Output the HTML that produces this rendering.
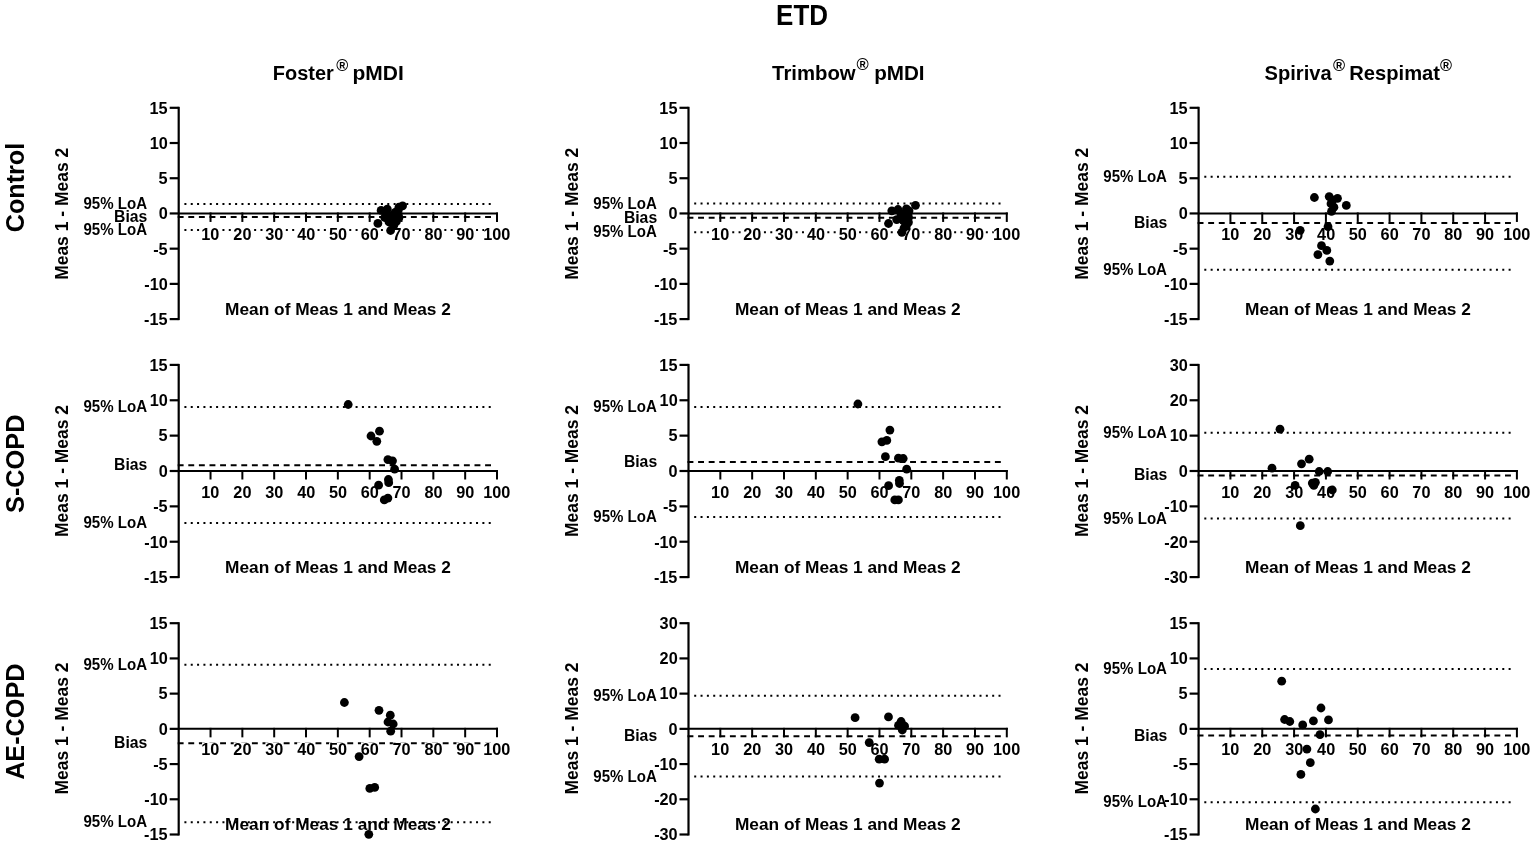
<!DOCTYPE html>
<html><head><meta charset="utf-8"><title>ETD</title>
<style>html,body{margin:0;padding:0;background:#fff;}svg{display:block;filter:blur(0.35px);}
text{font-family:"Liberation Sans", Arial, Helvetica, sans-serif;fill:#000;}
line{stroke:#000;}
</style></head><body>
<svg width="1535" height="845" viewBox="0 0 1535 845">
<rect width="1535" height="845" fill="#fff"/>
<text transform="translate(776.11,25.40) scale(0.8869,1)" font-size="29.28" font-weight="bold">ETD</text>
<text transform="translate(272.80,79.50) scale(0.9567,1)" font-size="20.87" font-weight="bold">Foster</text>
<text transform="translate(336.16,70.80) scale(1.0105,1)" font-size="16.14" font-weight="bold">®</text>
<text transform="translate(352.44,79.50) scale(1.0060,1)" font-size="20.87" font-weight="bold">pMDI</text>
<text transform="translate(772.10,79.50) scale(1.0241,1)" font-size="19.86" font-weight="bold">Trimbow</text>
<text transform="translate(856.45,70.40) scale(1.0561,1)" font-size="15.71" font-weight="bold">®</text>
<text transform="translate(874.16,79.50) scale(0.9894,1)" font-size="20.87" font-weight="bold">pMDI</text>
<text transform="translate(1264.60,79.50) scale(1.0130,1)" font-size="19.86" font-weight="bold">Spiriva</text>
<text transform="translate(1332.95,71.00) scale(1.0376,1)" font-size="15.86" font-weight="bold">®</text>
<text transform="translate(1349.29,79.50) scale(1.0160,1)" font-size="19.86" font-weight="bold">Respimat</text>
<text transform="translate(1440.06,71.00) scale(1.0287,1)" font-size="15.86" font-weight="bold">®</text>
<text transform="translate(23.90,232.21) rotate(-90) scale(0.9973,1)" font-size="25.24" font-weight="bold">Control</text>
<text transform="translate(23.90,512.96) rotate(-90) scale(0.9686,1)" font-size="26.14" font-weight="bold">S-COPD</text>
<text transform="translate(23.90,779.83) rotate(-90) scale(0.9645,1)" font-size="26.14" font-weight="bold">AE-COPD</text>
<text transform="translate(68.20,279.84) rotate(-90) scale(0.9551,1)" font-size="18.29" font-weight="bold">Meas 1 - Meas 2</text>
<line x1="184.40" y1="204.10" x2="492.10" y2="204.10" stroke-width="2" stroke-dasharray="2 4.34" stroke-dashoffset="0"/>
<line x1="184.40" y1="230.00" x2="492.10" y2="230.00" stroke-width="2" stroke-dasharray="2 4.34" stroke-dashoffset="0"/>
<line x1="177.70" y1="217.00" x2="492.10" y2="217.00" stroke-width="2" stroke-dasharray="5.9 4.7" stroke-dashoffset="0"/>
<line x1="178.70" y1="213.45" x2="498.00" y2="213.45" stroke-width="2"/>
<line x1="210.53" y1="212.45" x2="210.53" y2="221.95" stroke-width="2"/>
<rect x="202.06" y="227.03" width="16.95" height="13.82" fill="#fff"/>
<text transform="translate(201.30,239.85) scale(0.9800,1)" font-size="16.60" font-weight="bold">10</text>
<line x1="242.36" y1="212.45" x2="242.36" y2="221.95" stroke-width="2"/>
<rect x="233.64" y="227.03" width="17.44" height="13.82" fill="#fff"/>
<text transform="translate(233.37,239.85) scale(0.9800,1)" font-size="16.60" font-weight="bold">20</text>
<line x1="274.19" y1="212.45" x2="274.19" y2="221.95" stroke-width="2"/>
<rect x="265.39" y="227.03" width="17.60" height="13.82" fill="#fff"/>
<text transform="translate(265.28,239.85) scale(0.9800,1)" font-size="16.60" font-weight="bold">30</text>
<line x1="306.02" y1="212.45" x2="306.02" y2="221.95" stroke-width="2"/>
<rect x="297.14" y="227.03" width="17.76" height="13.82" fill="#fff"/>
<text transform="translate(297.19,239.85) scale(0.9800,1)" font-size="16.60" font-weight="bold">40</text>
<line x1="337.85" y1="212.45" x2="337.85" y2="221.95" stroke-width="2"/>
<rect x="329.09" y="227.03" width="17.52" height="13.82" fill="#fff"/>
<text transform="translate(328.90,239.85) scale(0.9800,1)" font-size="16.60" font-weight="bold">50</text>
<line x1="369.68" y1="212.45" x2="369.68" y2="221.95" stroke-width="2"/>
<rect x="360.96" y="227.03" width="17.44" height="13.82" fill="#fff"/>
<text transform="translate(360.69,239.85) scale(0.9800,1)" font-size="16.60" font-weight="bold">60</text>
<line x1="401.51" y1="212.45" x2="401.51" y2="221.95" stroke-width="2"/>
<rect x="392.87" y="227.03" width="17.27" height="13.82" fill="#fff"/>
<text transform="translate(392.44,239.85) scale(0.9800,1)" font-size="16.60" font-weight="bold">70</text>
<line x1="433.34" y1="212.45" x2="433.34" y2="221.95" stroke-width="2"/>
<rect x="424.58" y="227.03" width="17.52" height="13.82" fill="#fff"/>
<text transform="translate(424.39,239.85) scale(0.9800,1)" font-size="16.60" font-weight="bold">80</text>
<line x1="465.17" y1="212.45" x2="465.17" y2="221.95" stroke-width="2"/>
<rect x="456.45" y="227.03" width="17.44" height="13.82" fill="#fff"/>
<text transform="translate(456.18,239.85) scale(0.9800,1)" font-size="16.60" font-weight="bold">90</text>
<line x1="497.00" y1="212.45" x2="497.00" y2="221.95" stroke-width="2"/>
<rect x="484.01" y="227.03" width="25.98" height="13.82" fill="#fff"/>
<text transform="translate(483.25,239.85) scale(0.9800,1)" font-size="16.60" font-weight="bold">100</text>
<line x1="178.70" y1="106.80" x2="178.70" y2="320.10" stroke-width="2.2"/>
<line x1="169.70" y1="107.80" x2="178.70" y2="107.80" stroke-width="2.2"/>
<text transform="translate(149.55,113.65) scale(0.9800,1)" font-size="16.60" font-weight="bold">15</text>
<line x1="169.70" y1="143.02" x2="178.70" y2="143.02" stroke-width="2.2"/>
<text transform="translate(149.79,148.87) scale(0.9800,1)" font-size="16.60" font-weight="bold">10</text>
<line x1="169.70" y1="178.23" x2="178.70" y2="178.23" stroke-width="2.2"/>
<text transform="translate(158.58,184.08) scale(0.9800,1)" font-size="16.60" font-weight="bold">5</text>
<line x1="169.70" y1="213.45" x2="178.70" y2="213.45" stroke-width="2.2"/>
<text transform="translate(158.82,219.30) scale(0.9800,1)" font-size="16.60" font-weight="bold">0</text>
<line x1="169.70" y1="248.67" x2="178.70" y2="248.67" stroke-width="2.2"/>
<text transform="translate(153.13,254.52) scale(0.9800,1)" font-size="16.60" font-weight="bold">-5</text>
<line x1="169.70" y1="283.88" x2="178.70" y2="283.88" stroke-width="2.2"/>
<text transform="translate(144.34,289.73) scale(0.9800,1)" font-size="16.60" font-weight="bold">-10</text>
<line x1="169.70" y1="319.10" x2="178.70" y2="319.10" stroke-width="2.2"/>
<text transform="translate(144.10,324.95) scale(0.9800,1)" font-size="16.60" font-weight="bold">-15</text>
<text transform="translate(83.47,209.15) scale(0.9247,1)" font-size="16.30" font-weight="bold">95% LoA</text>
<text transform="translate(114.08,222.05) scale(0.9669,1)" font-size="16.30" font-weight="bold">Bias</text>
<text transform="translate(83.47,235.05) scale(0.9247,1)" font-size="16.30" font-weight="bold">95% LoA</text>
<circle cx="377.9" cy="223.4" r="4.4"/>
<circle cx="390.6" cy="230.5" r="4.4"/>
<circle cx="402.6" cy="205.8" r="4.4"/>
<circle cx="381.1" cy="210.4" r="4.4"/>
<circle cx="387.3" cy="209.1" r="4.4"/>
<circle cx="384.7" cy="217.5" r="4.4"/>
<circle cx="390.6" cy="215.6" r="4.4"/>
<circle cx="395.1" cy="212.3" r="4.4"/>
<circle cx="398.4" cy="209.7" r="4.4"/>
<circle cx="399.0" cy="217.5" r="4.4"/>
<circle cx="396.4" cy="221.4" r="4.4"/>
<circle cx="393.8" cy="225.3" r="4.4"/>
<circle cx="399.0" cy="207.1" r="4.4"/>
<circle cx="392.0" cy="219.0" r="4.4"/>
<circle cx="389.0" cy="222.0" r="4.4"/>
<circle cx="386.0" cy="213.0" r="4.4"/>
<text transform="translate(225.08,314.80) scale(0.9958,1)" font-size="17.38" font-weight="bold">Mean of Meas 1 and Meas 2</text>
<text transform="translate(578.20,279.84) rotate(-90) scale(0.9551,1)" font-size="18.29" font-weight="bold">Meas 1 - Meas 2</text>
<line x1="694.20" y1="203.50" x2="1001.90" y2="203.50" stroke-width="2" stroke-dasharray="2 4.34" stroke-dashoffset="0"/>
<line x1="694.20" y1="232.20" x2="1001.90" y2="232.20" stroke-width="2" stroke-dasharray="2 4.34" stroke-dashoffset="0"/>
<line x1="687.50" y1="217.70" x2="1001.90" y2="217.70" stroke-width="2" stroke-dasharray="5.9 4.7" stroke-dashoffset="0"/>
<line x1="688.50" y1="213.45" x2="1007.80" y2="213.45" stroke-width="2"/>
<line x1="720.33" y1="212.45" x2="720.33" y2="221.95" stroke-width="2"/>
<rect x="711.86" y="227.03" width="16.95" height="13.82" fill="#fff"/>
<text transform="translate(711.10,239.85) scale(0.9800,1)" font-size="16.60" font-weight="bold">10</text>
<line x1="752.16" y1="212.45" x2="752.16" y2="221.95" stroke-width="2"/>
<rect x="743.44" y="227.03" width="17.44" height="13.82" fill="#fff"/>
<text transform="translate(743.17,239.85) scale(0.9800,1)" font-size="16.60" font-weight="bold">20</text>
<line x1="783.99" y1="212.45" x2="783.99" y2="221.95" stroke-width="2"/>
<rect x="775.19" y="227.03" width="17.60" height="13.82" fill="#fff"/>
<text transform="translate(775.08,239.85) scale(0.9800,1)" font-size="16.60" font-weight="bold">30</text>
<line x1="815.82" y1="212.45" x2="815.82" y2="221.95" stroke-width="2"/>
<rect x="806.94" y="227.03" width="17.76" height="13.82" fill="#fff"/>
<text transform="translate(806.99,239.85) scale(0.9800,1)" font-size="16.60" font-weight="bold">40</text>
<line x1="847.65" y1="212.45" x2="847.65" y2="221.95" stroke-width="2"/>
<rect x="838.89" y="227.03" width="17.52" height="13.82" fill="#fff"/>
<text transform="translate(838.70,239.85) scale(0.9800,1)" font-size="16.60" font-weight="bold">50</text>
<line x1="879.48" y1="212.45" x2="879.48" y2="221.95" stroke-width="2"/>
<rect x="870.76" y="227.03" width="17.44" height="13.82" fill="#fff"/>
<text transform="translate(870.49,239.85) scale(0.9800,1)" font-size="16.60" font-weight="bold">60</text>
<line x1="911.31" y1="212.45" x2="911.31" y2="221.95" stroke-width="2"/>
<rect x="902.67" y="227.03" width="17.27" height="13.82" fill="#fff"/>
<text transform="translate(902.24,239.85) scale(0.9800,1)" font-size="16.60" font-weight="bold">70</text>
<line x1="943.14" y1="212.45" x2="943.14" y2="221.95" stroke-width="2"/>
<rect x="934.38" y="227.03" width="17.52" height="13.82" fill="#fff"/>
<text transform="translate(934.19,239.85) scale(0.9800,1)" font-size="16.60" font-weight="bold">80</text>
<line x1="974.97" y1="212.45" x2="974.97" y2="221.95" stroke-width="2"/>
<rect x="966.25" y="227.03" width="17.44" height="13.82" fill="#fff"/>
<text transform="translate(965.98,239.85) scale(0.9800,1)" font-size="16.60" font-weight="bold">90</text>
<line x1="1006.80" y1="212.45" x2="1006.80" y2="221.95" stroke-width="2"/>
<rect x="993.81" y="227.03" width="25.98" height="13.82" fill="#fff"/>
<text transform="translate(993.05,239.85) scale(0.9800,1)" font-size="16.60" font-weight="bold">100</text>
<line x1="688.50" y1="106.80" x2="688.50" y2="320.10" stroke-width="2.2"/>
<line x1="679.50" y1="107.80" x2="688.50" y2="107.80" stroke-width="2.2"/>
<text transform="translate(659.35,113.65) scale(0.9800,1)" font-size="16.60" font-weight="bold">15</text>
<line x1="679.50" y1="143.02" x2="688.50" y2="143.02" stroke-width="2.2"/>
<text transform="translate(659.59,148.87) scale(0.9800,1)" font-size="16.60" font-weight="bold">10</text>
<line x1="679.50" y1="178.23" x2="688.50" y2="178.23" stroke-width="2.2"/>
<text transform="translate(668.38,184.08) scale(0.9800,1)" font-size="16.60" font-weight="bold">5</text>
<line x1="679.50" y1="213.45" x2="688.50" y2="213.45" stroke-width="2.2"/>
<text transform="translate(668.62,219.30) scale(0.9800,1)" font-size="16.60" font-weight="bold">0</text>
<line x1="679.50" y1="248.67" x2="688.50" y2="248.67" stroke-width="2.2"/>
<text transform="translate(662.93,254.52) scale(0.9800,1)" font-size="16.60" font-weight="bold">-5</text>
<line x1="679.50" y1="283.88" x2="688.50" y2="283.88" stroke-width="2.2"/>
<text transform="translate(654.14,289.73) scale(0.9800,1)" font-size="16.60" font-weight="bold">-10</text>
<line x1="679.50" y1="319.10" x2="688.50" y2="319.10" stroke-width="2.2"/>
<text transform="translate(653.90,324.95) scale(0.9800,1)" font-size="16.60" font-weight="bold">-15</text>
<text transform="translate(593.27,208.55) scale(0.9247,1)" font-size="16.30" font-weight="bold">95% LoA</text>
<text transform="translate(623.88,222.75) scale(0.9669,1)" font-size="16.30" font-weight="bold">Bias</text>
<text transform="translate(593.27,237.25) scale(0.9247,1)" font-size="16.30" font-weight="bold">95% LoA</text>
<circle cx="915.5" cy="205.3" r="4.4"/>
<circle cx="891.8" cy="210.8" r="4.4"/>
<circle cx="898.0" cy="209.5" r="4.4"/>
<circle cx="906.4" cy="208.9" r="4.4"/>
<circle cx="909.0" cy="210.8" r="4.4"/>
<circle cx="896.7" cy="219.6" r="4.4"/>
<circle cx="888.5" cy="223.5" r="4.4"/>
<circle cx="908.4" cy="217.3" r="4.4"/>
<circle cx="908.4" cy="222.5" r="4.4"/>
<circle cx="906.4" cy="225.8" r="4.4"/>
<circle cx="901.9" cy="232.3" r="4.4"/>
<circle cx="905.1" cy="214.7" r="4.4"/>
<circle cx="903.2" cy="220.6" r="4.4"/>
<circle cx="901.0" cy="214.0" r="4.4"/>
<circle cx="904.0" cy="228.0" r="4.4"/>
<text transform="translate(734.88,314.80) scale(0.9958,1)" font-size="17.38" font-weight="bold">Mean of Meas 1 and Meas 2</text>
<text transform="translate(1088.20,279.84) rotate(-90) scale(0.9551,1)" font-size="18.29" font-weight="bold">Meas 1 - Meas 2</text>
<line x1="1204.30" y1="176.80" x2="1512.00" y2="176.80" stroke-width="2" stroke-dasharray="2 4.34" stroke-dashoffset="0"/>
<line x1="1204.30" y1="269.70" x2="1512.00" y2="269.70" stroke-width="2" stroke-dasharray="2 4.34" stroke-dashoffset="0"/>
<line x1="1197.60" y1="223.10" x2="1512.00" y2="223.10" stroke-width="2" stroke-dasharray="5.9 4.7" stroke-dashoffset="0"/>
<line x1="1198.60" y1="213.45" x2="1517.90" y2="213.45" stroke-width="2"/>
<line x1="1230.43" y1="212.45" x2="1230.43" y2="221.95" stroke-width="2"/>
<rect x="1221.96" y="227.03" width="16.95" height="13.82" fill="#fff"/>
<text transform="translate(1221.20,239.85) scale(0.9800,1)" font-size="16.60" font-weight="bold">10</text>
<line x1="1262.26" y1="212.45" x2="1262.26" y2="221.95" stroke-width="2"/>
<rect x="1253.54" y="227.03" width="17.44" height="13.82" fill="#fff"/>
<text transform="translate(1253.27,239.85) scale(0.9800,1)" font-size="16.60" font-weight="bold">20</text>
<line x1="1294.09" y1="212.45" x2="1294.09" y2="221.95" stroke-width="2"/>
<rect x="1285.29" y="227.03" width="17.60" height="13.82" fill="#fff"/>
<text transform="translate(1285.18,239.85) scale(0.9800,1)" font-size="16.60" font-weight="bold">30</text>
<line x1="1325.92" y1="212.45" x2="1325.92" y2="221.95" stroke-width="2"/>
<rect x="1317.04" y="227.03" width="17.76" height="13.82" fill="#fff"/>
<text transform="translate(1317.09,239.85) scale(0.9800,1)" font-size="16.60" font-weight="bold">40</text>
<line x1="1357.75" y1="212.45" x2="1357.75" y2="221.95" stroke-width="2"/>
<rect x="1348.99" y="227.03" width="17.52" height="13.82" fill="#fff"/>
<text transform="translate(1348.80,239.85) scale(0.9800,1)" font-size="16.60" font-weight="bold">50</text>
<line x1="1389.58" y1="212.45" x2="1389.58" y2="221.95" stroke-width="2"/>
<rect x="1380.86" y="227.03" width="17.44" height="13.82" fill="#fff"/>
<text transform="translate(1380.59,239.85) scale(0.9800,1)" font-size="16.60" font-weight="bold">60</text>
<line x1="1421.41" y1="212.45" x2="1421.41" y2="221.95" stroke-width="2"/>
<rect x="1412.77" y="227.03" width="17.27" height="13.82" fill="#fff"/>
<text transform="translate(1412.34,239.85) scale(0.9800,1)" font-size="16.60" font-weight="bold">70</text>
<line x1="1453.24" y1="212.45" x2="1453.24" y2="221.95" stroke-width="2"/>
<rect x="1444.48" y="227.03" width="17.52" height="13.82" fill="#fff"/>
<text transform="translate(1444.29,239.85) scale(0.9800,1)" font-size="16.60" font-weight="bold">80</text>
<line x1="1485.07" y1="212.45" x2="1485.07" y2="221.95" stroke-width="2"/>
<rect x="1476.35" y="227.03" width="17.44" height="13.82" fill="#fff"/>
<text transform="translate(1476.08,239.85) scale(0.9800,1)" font-size="16.60" font-weight="bold">90</text>
<line x1="1516.90" y1="212.45" x2="1516.90" y2="221.95" stroke-width="2"/>
<rect x="1503.91" y="227.03" width="25.98" height="13.82" fill="#fff"/>
<text transform="translate(1503.15,239.85) scale(0.9800,1)" font-size="16.60" font-weight="bold">100</text>
<line x1="1198.60" y1="106.80" x2="1198.60" y2="320.10" stroke-width="2.2"/>
<line x1="1189.60" y1="107.80" x2="1198.60" y2="107.80" stroke-width="2.2"/>
<text transform="translate(1169.45,113.65) scale(0.9800,1)" font-size="16.60" font-weight="bold">15</text>
<line x1="1189.60" y1="143.02" x2="1198.60" y2="143.02" stroke-width="2.2"/>
<text transform="translate(1169.69,148.87) scale(0.9800,1)" font-size="16.60" font-weight="bold">10</text>
<line x1="1189.60" y1="178.23" x2="1198.60" y2="178.23" stroke-width="2.2"/>
<text transform="translate(1178.48,184.08) scale(0.9800,1)" font-size="16.60" font-weight="bold">5</text>
<line x1="1189.60" y1="213.45" x2="1198.60" y2="213.45" stroke-width="2.2"/>
<text transform="translate(1178.72,219.30) scale(0.9800,1)" font-size="16.60" font-weight="bold">0</text>
<line x1="1189.60" y1="248.67" x2="1198.60" y2="248.67" stroke-width="2.2"/>
<text transform="translate(1173.03,254.52) scale(0.9800,1)" font-size="16.60" font-weight="bold">-5</text>
<line x1="1189.60" y1="283.88" x2="1198.60" y2="283.88" stroke-width="2.2"/>
<text transform="translate(1164.24,289.73) scale(0.9800,1)" font-size="16.60" font-weight="bold">-10</text>
<line x1="1189.60" y1="319.10" x2="1198.60" y2="319.10" stroke-width="2.2"/>
<text transform="translate(1164.00,324.95) scale(0.9800,1)" font-size="16.60" font-weight="bold">-15</text>
<text transform="translate(1103.37,181.85) scale(0.9247,1)" font-size="16.30" font-weight="bold">95% LoA</text>
<text transform="translate(1133.98,228.15) scale(0.9669,1)" font-size="16.30" font-weight="bold">Bias</text>
<text transform="translate(1103.37,274.75) scale(0.9247,1)" font-size="16.30" font-weight="bold">95% LoA</text>
<circle cx="1314.4" cy="197.5" r="4.4"/>
<circle cx="1329.2" cy="196.6" r="4.4"/>
<circle cx="1337.5" cy="198.3" r="4.4"/>
<circle cx="1346.3" cy="205.4" r="4.4"/>
<circle cx="1331.0" cy="203.7" r="4.4"/>
<circle cx="1333.9" cy="207.2" r="4.4"/>
<circle cx="1331.5" cy="211.4" r="4.4"/>
<circle cx="1328.0" cy="226.7" r="4.4"/>
<circle cx="1300.2" cy="230.3" r="4.4"/>
<circle cx="1321.5" cy="245.7" r="4.4"/>
<circle cx="1326.8" cy="250.4" r="4.4"/>
<circle cx="1317.9" cy="254.6" r="4.4"/>
<circle cx="1329.8" cy="261.1" r="4.4"/>
<circle cx="1332.7" cy="200.1" r="4.4"/>
<text transform="translate(1244.98,314.80) scale(0.9958,1)" font-size="17.38" font-weight="bold">Mean of Meas 1 and Meas 2</text>
<text transform="translate(68.20,536.93) rotate(-90) scale(0.9544,1)" font-size="18.29" font-weight="bold">Meas 1 - Meas 2</text>
<line x1="184.40" y1="406.90" x2="492.10" y2="406.90" stroke-width="2" stroke-dasharray="2 4.34" stroke-dashoffset="0"/>
<line x1="184.40" y1="522.90" x2="492.10" y2="522.90" stroke-width="2" stroke-dasharray="2 4.34" stroke-dashoffset="0"/>
<line x1="177.70" y1="465.20" x2="492.10" y2="465.20" stroke-width="2" stroke-dasharray="5.9 4.7" stroke-dashoffset="0"/>
<line x1="178.70" y1="471.00" x2="498.00" y2="471.00" stroke-width="2"/>
<line x1="210.53" y1="470.00" x2="210.53" y2="479.50" stroke-width="2"/>
<rect x="202.06" y="485.08" width="16.95" height="13.82" fill="#fff"/>
<text transform="translate(201.30,497.90) scale(0.9800,1)" font-size="16.60" font-weight="bold">10</text>
<line x1="242.36" y1="470.00" x2="242.36" y2="479.50" stroke-width="2"/>
<rect x="233.64" y="485.08" width="17.44" height="13.82" fill="#fff"/>
<text transform="translate(233.37,497.90) scale(0.9800,1)" font-size="16.60" font-weight="bold">20</text>
<line x1="274.19" y1="470.00" x2="274.19" y2="479.50" stroke-width="2"/>
<rect x="265.39" y="485.08" width="17.60" height="13.82" fill="#fff"/>
<text transform="translate(265.28,497.90) scale(0.9800,1)" font-size="16.60" font-weight="bold">30</text>
<line x1="306.02" y1="470.00" x2="306.02" y2="479.50" stroke-width="2"/>
<rect x="297.14" y="485.08" width="17.76" height="13.82" fill="#fff"/>
<text transform="translate(297.19,497.90) scale(0.9800,1)" font-size="16.60" font-weight="bold">40</text>
<line x1="337.85" y1="470.00" x2="337.85" y2="479.50" stroke-width="2"/>
<rect x="329.09" y="485.08" width="17.52" height="13.82" fill="#fff"/>
<text transform="translate(328.90,497.90) scale(0.9800,1)" font-size="16.60" font-weight="bold">50</text>
<line x1="369.68" y1="470.00" x2="369.68" y2="479.50" stroke-width="2"/>
<rect x="360.96" y="485.08" width="17.44" height="13.82" fill="#fff"/>
<text transform="translate(360.69,497.90) scale(0.9800,1)" font-size="16.60" font-weight="bold">60</text>
<line x1="401.51" y1="470.00" x2="401.51" y2="479.50" stroke-width="2"/>
<rect x="392.87" y="485.08" width="17.27" height="13.82" fill="#fff"/>
<text transform="translate(392.44,497.90) scale(0.9800,1)" font-size="16.60" font-weight="bold">70</text>
<line x1="433.34" y1="470.00" x2="433.34" y2="479.50" stroke-width="2"/>
<rect x="424.58" y="485.08" width="17.52" height="13.82" fill="#fff"/>
<text transform="translate(424.39,497.90) scale(0.9800,1)" font-size="16.60" font-weight="bold">80</text>
<line x1="465.17" y1="470.00" x2="465.17" y2="479.50" stroke-width="2"/>
<rect x="456.45" y="485.08" width="17.44" height="13.82" fill="#fff"/>
<text transform="translate(456.18,497.90) scale(0.9800,1)" font-size="16.60" font-weight="bold">90</text>
<line x1="497.00" y1="470.00" x2="497.00" y2="479.50" stroke-width="2"/>
<rect x="484.01" y="485.08" width="25.98" height="13.82" fill="#fff"/>
<text transform="translate(483.25,497.90) scale(0.9800,1)" font-size="16.60" font-weight="bold">100</text>
<line x1="178.70" y1="363.90" x2="178.70" y2="578.10" stroke-width="2.2"/>
<line x1="169.70" y1="364.90" x2="178.70" y2="364.90" stroke-width="2.2"/>
<text transform="translate(149.55,370.75) scale(0.9800,1)" font-size="16.60" font-weight="bold">15</text>
<line x1="169.70" y1="400.27" x2="178.70" y2="400.27" stroke-width="2.2"/>
<text transform="translate(149.79,406.12) scale(0.9800,1)" font-size="16.60" font-weight="bold">10</text>
<line x1="169.70" y1="435.63" x2="178.70" y2="435.63" stroke-width="2.2"/>
<text transform="translate(158.58,441.48) scale(0.9800,1)" font-size="16.60" font-weight="bold">5</text>
<line x1="169.70" y1="471.00" x2="178.70" y2="471.00" stroke-width="2.2"/>
<text transform="translate(158.82,476.85) scale(0.9800,1)" font-size="16.60" font-weight="bold">0</text>
<line x1="169.70" y1="506.37" x2="178.70" y2="506.37" stroke-width="2.2"/>
<text transform="translate(153.13,512.22) scale(0.9800,1)" font-size="16.60" font-weight="bold">-5</text>
<line x1="169.70" y1="541.73" x2="178.70" y2="541.73" stroke-width="2.2"/>
<text transform="translate(144.34,547.58) scale(0.9800,1)" font-size="16.60" font-weight="bold">-10</text>
<line x1="169.70" y1="577.10" x2="178.70" y2="577.10" stroke-width="2.2"/>
<text transform="translate(144.10,582.95) scale(0.9800,1)" font-size="16.60" font-weight="bold">-15</text>
<text transform="translate(83.47,411.95) scale(0.9247,1)" font-size="16.30" font-weight="bold">95% LoA</text>
<text transform="translate(114.08,470.25) scale(0.9669,1)" font-size="16.30" font-weight="bold">Bias</text>
<text transform="translate(83.47,527.95) scale(0.9247,1)" font-size="16.30" font-weight="bold">95% LoA</text>
<circle cx="348.2" cy="404.5" r="4.4"/>
<circle cx="379.5" cy="431.2" r="4.4"/>
<circle cx="371.0" cy="436.0" r="4.4"/>
<circle cx="376.8" cy="441.3" r="4.4"/>
<circle cx="387.9" cy="459.6" r="4.4"/>
<circle cx="392.5" cy="460.8" r="4.4"/>
<circle cx="394.6" cy="469.2" r="4.4"/>
<circle cx="388.4" cy="479.5" r="4.4"/>
<circle cx="378.6" cy="485.2" r="4.4"/>
<circle cx="384.3" cy="499.9" r="4.4"/>
<circle cx="387.9" cy="498.1" r="4.4"/>
<circle cx="388.7" cy="482.7" r="4.4"/>
<text transform="translate(225.08,572.50) scale(0.9958,1)" font-size="17.38" font-weight="bold">Mean of Meas 1 and Meas 2</text>
<text transform="translate(578.20,536.93) rotate(-90) scale(0.9544,1)" font-size="18.29" font-weight="bold">Meas 1 - Meas 2</text>
<line x1="694.20" y1="407.00" x2="1001.90" y2="407.00" stroke-width="2" stroke-dasharray="2 4.34" stroke-dashoffset="0"/>
<line x1="694.20" y1="517.10" x2="1001.90" y2="517.10" stroke-width="2" stroke-dasharray="2 4.34" stroke-dashoffset="0"/>
<line x1="687.50" y1="462.10" x2="1001.90" y2="462.10" stroke-width="2" stroke-dasharray="5.9 4.7" stroke-dashoffset="0"/>
<line x1="688.50" y1="471.00" x2="1007.80" y2="471.00" stroke-width="2"/>
<line x1="720.33" y1="470.00" x2="720.33" y2="479.50" stroke-width="2"/>
<rect x="711.86" y="485.08" width="16.95" height="13.82" fill="#fff"/>
<text transform="translate(711.10,497.90) scale(0.9800,1)" font-size="16.60" font-weight="bold">10</text>
<line x1="752.16" y1="470.00" x2="752.16" y2="479.50" stroke-width="2"/>
<rect x="743.44" y="485.08" width="17.44" height="13.82" fill="#fff"/>
<text transform="translate(743.17,497.90) scale(0.9800,1)" font-size="16.60" font-weight="bold">20</text>
<line x1="783.99" y1="470.00" x2="783.99" y2="479.50" stroke-width="2"/>
<rect x="775.19" y="485.08" width="17.60" height="13.82" fill="#fff"/>
<text transform="translate(775.08,497.90) scale(0.9800,1)" font-size="16.60" font-weight="bold">30</text>
<line x1="815.82" y1="470.00" x2="815.82" y2="479.50" stroke-width="2"/>
<rect x="806.94" y="485.08" width="17.76" height="13.82" fill="#fff"/>
<text transform="translate(806.99,497.90) scale(0.9800,1)" font-size="16.60" font-weight="bold">40</text>
<line x1="847.65" y1="470.00" x2="847.65" y2="479.50" stroke-width="2"/>
<rect x="838.89" y="485.08" width="17.52" height="13.82" fill="#fff"/>
<text transform="translate(838.70,497.90) scale(0.9800,1)" font-size="16.60" font-weight="bold">50</text>
<line x1="879.48" y1="470.00" x2="879.48" y2="479.50" stroke-width="2"/>
<rect x="870.76" y="485.08" width="17.44" height="13.82" fill="#fff"/>
<text transform="translate(870.49,497.90) scale(0.9800,1)" font-size="16.60" font-weight="bold">60</text>
<line x1="911.31" y1="470.00" x2="911.31" y2="479.50" stroke-width="2"/>
<rect x="902.67" y="485.08" width="17.27" height="13.82" fill="#fff"/>
<text transform="translate(902.24,497.90) scale(0.9800,1)" font-size="16.60" font-weight="bold">70</text>
<line x1="943.14" y1="470.00" x2="943.14" y2="479.50" stroke-width="2"/>
<rect x="934.38" y="485.08" width="17.52" height="13.82" fill="#fff"/>
<text transform="translate(934.19,497.90) scale(0.9800,1)" font-size="16.60" font-weight="bold">80</text>
<line x1="974.97" y1="470.00" x2="974.97" y2="479.50" stroke-width="2"/>
<rect x="966.25" y="485.08" width="17.44" height="13.82" fill="#fff"/>
<text transform="translate(965.98,497.90) scale(0.9800,1)" font-size="16.60" font-weight="bold">90</text>
<line x1="1006.80" y1="470.00" x2="1006.80" y2="479.50" stroke-width="2"/>
<rect x="993.81" y="485.08" width="25.98" height="13.82" fill="#fff"/>
<text transform="translate(993.05,497.90) scale(0.9800,1)" font-size="16.60" font-weight="bold">100</text>
<line x1="688.50" y1="363.90" x2="688.50" y2="578.10" stroke-width="2.2"/>
<line x1="679.50" y1="364.90" x2="688.50" y2="364.90" stroke-width="2.2"/>
<text transform="translate(659.35,370.75) scale(0.9800,1)" font-size="16.60" font-weight="bold">15</text>
<line x1="679.50" y1="400.27" x2="688.50" y2="400.27" stroke-width="2.2"/>
<text transform="translate(659.59,406.12) scale(0.9800,1)" font-size="16.60" font-weight="bold">10</text>
<line x1="679.50" y1="435.63" x2="688.50" y2="435.63" stroke-width="2.2"/>
<text transform="translate(668.38,441.48) scale(0.9800,1)" font-size="16.60" font-weight="bold">5</text>
<line x1="679.50" y1="471.00" x2="688.50" y2="471.00" stroke-width="2.2"/>
<text transform="translate(668.62,476.85) scale(0.9800,1)" font-size="16.60" font-weight="bold">0</text>
<line x1="679.50" y1="506.37" x2="688.50" y2="506.37" stroke-width="2.2"/>
<text transform="translate(662.93,512.22) scale(0.9800,1)" font-size="16.60" font-weight="bold">-5</text>
<line x1="679.50" y1="541.73" x2="688.50" y2="541.73" stroke-width="2.2"/>
<text transform="translate(654.14,547.58) scale(0.9800,1)" font-size="16.60" font-weight="bold">-10</text>
<line x1="679.50" y1="577.10" x2="688.50" y2="577.10" stroke-width="2.2"/>
<text transform="translate(653.90,582.95) scale(0.9800,1)" font-size="16.60" font-weight="bold">-15</text>
<text transform="translate(593.27,412.05) scale(0.9247,1)" font-size="16.30" font-weight="bold">95% LoA</text>
<text transform="translate(623.88,467.15) scale(0.9669,1)" font-size="16.30" font-weight="bold">Bias</text>
<text transform="translate(593.27,522.15) scale(0.9247,1)" font-size="16.30" font-weight="bold">95% LoA</text>
<circle cx="857.9" cy="404.0" r="4.4"/>
<circle cx="889.9" cy="430.1" r="4.4"/>
<circle cx="881.9" cy="441.8" r="4.4"/>
<circle cx="886.8" cy="440.4" r="4.4"/>
<circle cx="885.4" cy="456.7" r="4.4"/>
<circle cx="898.4" cy="458.2" r="4.4"/>
<circle cx="903.2" cy="458.5" r="4.4"/>
<circle cx="906.7" cy="469.2" r="4.4"/>
<circle cx="899.3" cy="480.4" r="4.4"/>
<circle cx="888.6" cy="485.7" r="4.4"/>
<circle cx="894.8" cy="499.9" r="4.4"/>
<circle cx="898.4" cy="499.9" r="4.4"/>
<circle cx="899.5" cy="483.5" r="4.4"/>
<text transform="translate(734.88,572.50) scale(0.9958,1)" font-size="17.38" font-weight="bold">Mean of Meas 1 and Meas 2</text>
<text transform="translate(1088.20,536.93) rotate(-90) scale(0.9544,1)" font-size="18.29" font-weight="bold">Meas 1 - Meas 2</text>
<line x1="1204.30" y1="432.80" x2="1512.00" y2="432.80" stroke-width="2" stroke-dasharray="2 4.34" stroke-dashoffset="0"/>
<line x1="1204.30" y1="518.50" x2="1512.00" y2="518.50" stroke-width="2" stroke-dasharray="2 4.34" stroke-dashoffset="0"/>
<line x1="1197.60" y1="475.40" x2="1512.00" y2="475.40" stroke-width="2" stroke-dasharray="5.9 4.7" stroke-dashoffset="0"/>
<line x1="1198.60" y1="471.00" x2="1517.90" y2="471.00" stroke-width="2"/>
<line x1="1230.43" y1="470.00" x2="1230.43" y2="479.50" stroke-width="2"/>
<rect x="1221.96" y="485.08" width="16.95" height="13.82" fill="#fff"/>
<text transform="translate(1221.20,497.90) scale(0.9800,1)" font-size="16.60" font-weight="bold">10</text>
<line x1="1262.26" y1="470.00" x2="1262.26" y2="479.50" stroke-width="2"/>
<rect x="1253.54" y="485.08" width="17.44" height="13.82" fill="#fff"/>
<text transform="translate(1253.27,497.90) scale(0.9800,1)" font-size="16.60" font-weight="bold">20</text>
<line x1="1294.09" y1="470.00" x2="1294.09" y2="479.50" stroke-width="2"/>
<rect x="1285.29" y="485.08" width="17.60" height="13.82" fill="#fff"/>
<text transform="translate(1285.18,497.90) scale(0.9800,1)" font-size="16.60" font-weight="bold">30</text>
<line x1="1325.92" y1="470.00" x2="1325.92" y2="479.50" stroke-width="2"/>
<rect x="1317.04" y="485.08" width="17.76" height="13.82" fill="#fff"/>
<text transform="translate(1317.09,497.90) scale(0.9800,1)" font-size="16.60" font-weight="bold">40</text>
<line x1="1357.75" y1="470.00" x2="1357.75" y2="479.50" stroke-width="2"/>
<rect x="1348.99" y="485.08" width="17.52" height="13.82" fill="#fff"/>
<text transform="translate(1348.80,497.90) scale(0.9800,1)" font-size="16.60" font-weight="bold">50</text>
<line x1="1389.58" y1="470.00" x2="1389.58" y2="479.50" stroke-width="2"/>
<rect x="1380.86" y="485.08" width="17.44" height="13.82" fill="#fff"/>
<text transform="translate(1380.59,497.90) scale(0.9800,1)" font-size="16.60" font-weight="bold">60</text>
<line x1="1421.41" y1="470.00" x2="1421.41" y2="479.50" stroke-width="2"/>
<rect x="1412.77" y="485.08" width="17.27" height="13.82" fill="#fff"/>
<text transform="translate(1412.34,497.90) scale(0.9800,1)" font-size="16.60" font-weight="bold">70</text>
<line x1="1453.24" y1="470.00" x2="1453.24" y2="479.50" stroke-width="2"/>
<rect x="1444.48" y="485.08" width="17.52" height="13.82" fill="#fff"/>
<text transform="translate(1444.29,497.90) scale(0.9800,1)" font-size="16.60" font-weight="bold">80</text>
<line x1="1485.07" y1="470.00" x2="1485.07" y2="479.50" stroke-width="2"/>
<rect x="1476.35" y="485.08" width="17.44" height="13.82" fill="#fff"/>
<text transform="translate(1476.08,497.90) scale(0.9800,1)" font-size="16.60" font-weight="bold">90</text>
<line x1="1516.90" y1="470.00" x2="1516.90" y2="479.50" stroke-width="2"/>
<rect x="1503.91" y="485.08" width="25.98" height="13.82" fill="#fff"/>
<text transform="translate(1503.15,497.90) scale(0.9800,1)" font-size="16.60" font-weight="bold">100</text>
<line x1="1198.60" y1="363.90" x2="1198.60" y2="578.10" stroke-width="2.2"/>
<line x1="1189.60" y1="364.90" x2="1198.60" y2="364.90" stroke-width="2.2"/>
<text transform="translate(1169.69,370.75) scale(0.9800,1)" font-size="16.60" font-weight="bold">30</text>
<line x1="1189.60" y1="400.27" x2="1198.60" y2="400.27" stroke-width="2.2"/>
<text transform="translate(1169.69,406.12) scale(0.9800,1)" font-size="16.60" font-weight="bold">20</text>
<line x1="1189.60" y1="435.63" x2="1198.60" y2="435.63" stroke-width="2.2"/>
<text transform="translate(1169.69,441.48) scale(0.9800,1)" font-size="16.60" font-weight="bold">10</text>
<line x1="1189.60" y1="471.00" x2="1198.60" y2="471.00" stroke-width="2.2"/>
<text transform="translate(1178.72,476.85) scale(0.9800,1)" font-size="16.60" font-weight="bold">0</text>
<line x1="1189.60" y1="506.37" x2="1198.60" y2="506.37" stroke-width="2.2"/>
<text transform="translate(1164.24,512.22) scale(0.9800,1)" font-size="16.60" font-weight="bold">-10</text>
<line x1="1189.60" y1="541.73" x2="1198.60" y2="541.73" stroke-width="2.2"/>
<text transform="translate(1164.24,547.58) scale(0.9800,1)" font-size="16.60" font-weight="bold">-20</text>
<line x1="1189.60" y1="577.10" x2="1198.60" y2="577.10" stroke-width="2.2"/>
<text transform="translate(1164.24,582.95) scale(0.9800,1)" font-size="16.60" font-weight="bold">-30</text>
<text transform="translate(1103.37,437.85) scale(0.9247,1)" font-size="16.30" font-weight="bold">95% LoA</text>
<text transform="translate(1133.98,480.45) scale(0.9669,1)" font-size="16.30" font-weight="bold">Bias</text>
<text transform="translate(1103.37,523.55) scale(0.9247,1)" font-size="16.30" font-weight="bold">95% LoA</text>
<circle cx="1280.0" cy="429.2" r="4.4"/>
<circle cx="1309.2" cy="459.2" r="4.4"/>
<circle cx="1301.5" cy="463.8" r="4.4"/>
<circle cx="1272.0" cy="468.2" r="4.4"/>
<circle cx="1319.2" cy="471.5" r="4.4"/>
<circle cx="1327.7" cy="471.5" r="4.4"/>
<circle cx="1295.1" cy="485.4" r="4.4"/>
<circle cx="1312.3" cy="483.1" r="4.4"/>
<circle cx="1315.4" cy="482.3" r="4.4"/>
<circle cx="1313.8" cy="485.4" r="4.4"/>
<circle cx="1332.3" cy="490.0" r="4.4"/>
<circle cx="1300.3" cy="525.7" r="4.4"/>
<text transform="translate(1244.98,572.50) scale(0.9958,1)" font-size="17.38" font-weight="bold">Mean of Meas 1 and Meas 2</text>
<text transform="translate(68.20,794.54) rotate(-90) scale(0.9551,1)" font-size="18.29" font-weight="bold">Meas 1 - Meas 2</text>
<line x1="184.40" y1="664.70" x2="492.10" y2="664.70" stroke-width="2" stroke-dasharray="2 4.34" stroke-dashoffset="0"/>
<line x1="184.40" y1="822.20" x2="492.10" y2="822.20" stroke-width="2" stroke-dasharray="2 4.34" stroke-dashoffset="0"/>
<line x1="177.70" y1="743.20" x2="492.10" y2="743.20" stroke-width="2" stroke-dasharray="5.9 4.7" stroke-dashoffset="0"/>
<line x1="178.70" y1="728.85" x2="498.00" y2="728.85" stroke-width="2"/>
<line x1="210.53" y1="727.85" x2="210.53" y2="737.35" stroke-width="2"/>
<rect x="202.06" y="742.33" width="16.95" height="13.82" fill="#fff"/>
<text transform="translate(201.30,755.15) scale(0.9800,1)" font-size="16.60" font-weight="bold">10</text>
<line x1="242.36" y1="727.85" x2="242.36" y2="737.35" stroke-width="2"/>
<rect x="233.64" y="742.33" width="17.44" height="13.82" fill="#fff"/>
<text transform="translate(233.37,755.15) scale(0.9800,1)" font-size="16.60" font-weight="bold">20</text>
<line x1="274.19" y1="727.85" x2="274.19" y2="737.35" stroke-width="2"/>
<rect x="265.39" y="742.33" width="17.60" height="13.82" fill="#fff"/>
<text transform="translate(265.28,755.15) scale(0.9800,1)" font-size="16.60" font-weight="bold">30</text>
<line x1="306.02" y1="727.85" x2="306.02" y2="737.35" stroke-width="2"/>
<rect x="297.14" y="742.33" width="17.76" height="13.82" fill="#fff"/>
<text transform="translate(297.19,755.15) scale(0.9800,1)" font-size="16.60" font-weight="bold">40</text>
<line x1="337.85" y1="727.85" x2="337.85" y2="737.35" stroke-width="2"/>
<rect x="329.09" y="742.33" width="17.52" height="13.82" fill="#fff"/>
<text transform="translate(328.90,755.15) scale(0.9800,1)" font-size="16.60" font-weight="bold">50</text>
<line x1="369.68" y1="727.85" x2="369.68" y2="737.35" stroke-width="2"/>
<rect x="360.96" y="742.33" width="17.44" height="13.82" fill="#fff"/>
<text transform="translate(360.69,755.15) scale(0.9800,1)" font-size="16.60" font-weight="bold">60</text>
<line x1="401.51" y1="727.85" x2="401.51" y2="737.35" stroke-width="2"/>
<rect x="392.87" y="742.33" width="17.27" height="13.82" fill="#fff"/>
<text transform="translate(392.44,755.15) scale(0.9800,1)" font-size="16.60" font-weight="bold">70</text>
<line x1="433.34" y1="727.85" x2="433.34" y2="737.35" stroke-width="2"/>
<rect x="424.58" y="742.33" width="17.52" height="13.82" fill="#fff"/>
<text transform="translate(424.39,755.15) scale(0.9800,1)" font-size="16.60" font-weight="bold">80</text>
<line x1="465.17" y1="727.85" x2="465.17" y2="737.35" stroke-width="2"/>
<rect x="456.45" y="742.33" width="17.44" height="13.82" fill="#fff"/>
<text transform="translate(456.18,755.15) scale(0.9800,1)" font-size="16.60" font-weight="bold">90</text>
<line x1="497.00" y1="727.85" x2="497.00" y2="737.35" stroke-width="2"/>
<rect x="484.01" y="742.33" width="25.98" height="13.82" fill="#fff"/>
<text transform="translate(483.25,755.15) scale(0.9800,1)" font-size="16.60" font-weight="bold">100</text>
<line x1="178.70" y1="622.20" x2="178.70" y2="835.50" stroke-width="2.2"/>
<line x1="169.70" y1="623.20" x2="178.70" y2="623.20" stroke-width="2.2"/>
<text transform="translate(149.55,629.05) scale(0.9800,1)" font-size="16.60" font-weight="bold">15</text>
<line x1="169.70" y1="658.42" x2="178.70" y2="658.42" stroke-width="2.2"/>
<text transform="translate(149.79,664.27) scale(0.9800,1)" font-size="16.60" font-weight="bold">10</text>
<line x1="169.70" y1="693.63" x2="178.70" y2="693.63" stroke-width="2.2"/>
<text transform="translate(158.58,699.48) scale(0.9800,1)" font-size="16.60" font-weight="bold">5</text>
<line x1="169.70" y1="728.85" x2="178.70" y2="728.85" stroke-width="2.2"/>
<text transform="translate(158.82,734.70) scale(0.9800,1)" font-size="16.60" font-weight="bold">0</text>
<line x1="169.70" y1="764.07" x2="178.70" y2="764.07" stroke-width="2.2"/>
<text transform="translate(153.13,769.92) scale(0.9800,1)" font-size="16.60" font-weight="bold">-5</text>
<line x1="169.70" y1="799.28" x2="178.70" y2="799.28" stroke-width="2.2"/>
<text transform="translate(144.34,805.13) scale(0.9800,1)" font-size="16.60" font-weight="bold">-10</text>
<line x1="169.70" y1="834.50" x2="178.70" y2="834.50" stroke-width="2.2"/>
<text transform="translate(144.10,840.35) scale(0.9800,1)" font-size="16.60" font-weight="bold">-15</text>
<text transform="translate(83.47,669.75) scale(0.9247,1)" font-size="16.30" font-weight="bold">95% LoA</text>
<text transform="translate(114.08,748.25) scale(0.9669,1)" font-size="16.30" font-weight="bold">Bias</text>
<text transform="translate(83.47,827.25) scale(0.9247,1)" font-size="16.30" font-weight="bold">95% LoA</text>
<circle cx="344.4" cy="702.5" r="4.4"/>
<circle cx="379.0" cy="710.3" r="4.4"/>
<circle cx="390.3" cy="715.2" r="4.4"/>
<circle cx="388.0" cy="722.0" r="4.4"/>
<circle cx="393.2" cy="724.0" r="4.4"/>
<circle cx="390.7" cy="731.2" r="4.4"/>
<circle cx="359.1" cy="756.6" r="4.4"/>
<circle cx="369.8" cy="788.4" r="4.4"/>
<circle cx="374.7" cy="787.4" r="4.4"/>
<circle cx="368.8" cy="834.3" r="4.4"/>
<text transform="translate(225.08,829.80) scale(0.9958,1)" font-size="17.38" font-weight="bold">Mean of Meas 1 and Meas 2</text>
<text transform="translate(578.20,794.54) rotate(-90) scale(0.9551,1)" font-size="18.29" font-weight="bold">Meas 1 - Meas 2</text>
<line x1="694.20" y1="695.80" x2="1001.90" y2="695.80" stroke-width="2" stroke-dasharray="2 4.34" stroke-dashoffset="0"/>
<line x1="694.20" y1="776.50" x2="1001.90" y2="776.50" stroke-width="2" stroke-dasharray="2 4.34" stroke-dashoffset="0"/>
<line x1="687.50" y1="736.20" x2="1001.90" y2="736.20" stroke-width="2" stroke-dasharray="5.9 4.7" stroke-dashoffset="0"/>
<line x1="688.50" y1="728.85" x2="1007.80" y2="728.85" stroke-width="2"/>
<line x1="720.33" y1="727.85" x2="720.33" y2="737.35" stroke-width="2"/>
<rect x="711.86" y="742.33" width="16.95" height="13.82" fill="#fff"/>
<text transform="translate(711.10,755.15) scale(0.9800,1)" font-size="16.60" font-weight="bold">10</text>
<line x1="752.16" y1="727.85" x2="752.16" y2="737.35" stroke-width="2"/>
<rect x="743.44" y="742.33" width="17.44" height="13.82" fill="#fff"/>
<text transform="translate(743.17,755.15) scale(0.9800,1)" font-size="16.60" font-weight="bold">20</text>
<line x1="783.99" y1="727.85" x2="783.99" y2="737.35" stroke-width="2"/>
<rect x="775.19" y="742.33" width="17.60" height="13.82" fill="#fff"/>
<text transform="translate(775.08,755.15) scale(0.9800,1)" font-size="16.60" font-weight="bold">30</text>
<line x1="815.82" y1="727.85" x2="815.82" y2="737.35" stroke-width="2"/>
<rect x="806.94" y="742.33" width="17.76" height="13.82" fill="#fff"/>
<text transform="translate(806.99,755.15) scale(0.9800,1)" font-size="16.60" font-weight="bold">40</text>
<line x1="847.65" y1="727.85" x2="847.65" y2="737.35" stroke-width="2"/>
<rect x="838.89" y="742.33" width="17.52" height="13.82" fill="#fff"/>
<text transform="translate(838.70,755.15) scale(0.9800,1)" font-size="16.60" font-weight="bold">50</text>
<line x1="879.48" y1="727.85" x2="879.48" y2="737.35" stroke-width="2"/>
<rect x="870.76" y="742.33" width="17.44" height="13.82" fill="#fff"/>
<text transform="translate(870.49,755.15) scale(0.9800,1)" font-size="16.60" font-weight="bold">60</text>
<line x1="911.31" y1="727.85" x2="911.31" y2="737.35" stroke-width="2"/>
<rect x="902.67" y="742.33" width="17.27" height="13.82" fill="#fff"/>
<text transform="translate(902.24,755.15) scale(0.9800,1)" font-size="16.60" font-weight="bold">70</text>
<line x1="943.14" y1="727.85" x2="943.14" y2="737.35" stroke-width="2"/>
<rect x="934.38" y="742.33" width="17.52" height="13.82" fill="#fff"/>
<text transform="translate(934.19,755.15) scale(0.9800,1)" font-size="16.60" font-weight="bold">80</text>
<line x1="974.97" y1="727.85" x2="974.97" y2="737.35" stroke-width="2"/>
<rect x="966.25" y="742.33" width="17.44" height="13.82" fill="#fff"/>
<text transform="translate(965.98,755.15) scale(0.9800,1)" font-size="16.60" font-weight="bold">90</text>
<line x1="1006.80" y1="727.85" x2="1006.80" y2="737.35" stroke-width="2"/>
<rect x="993.81" y="742.33" width="25.98" height="13.82" fill="#fff"/>
<text transform="translate(993.05,755.15) scale(0.9800,1)" font-size="16.60" font-weight="bold">100</text>
<line x1="688.50" y1="622.20" x2="688.50" y2="835.50" stroke-width="2.2"/>
<line x1="679.50" y1="623.20" x2="688.50" y2="623.20" stroke-width="2.2"/>
<text transform="translate(659.59,629.05) scale(0.9800,1)" font-size="16.60" font-weight="bold">30</text>
<line x1="679.50" y1="658.42" x2="688.50" y2="658.42" stroke-width="2.2"/>
<text transform="translate(659.59,664.27) scale(0.9800,1)" font-size="16.60" font-weight="bold">20</text>
<line x1="679.50" y1="693.63" x2="688.50" y2="693.63" stroke-width="2.2"/>
<text transform="translate(659.59,699.48) scale(0.9800,1)" font-size="16.60" font-weight="bold">10</text>
<line x1="679.50" y1="728.85" x2="688.50" y2="728.85" stroke-width="2.2"/>
<text transform="translate(668.62,734.70) scale(0.9800,1)" font-size="16.60" font-weight="bold">0</text>
<line x1="679.50" y1="764.07" x2="688.50" y2="764.07" stroke-width="2.2"/>
<text transform="translate(654.14,769.92) scale(0.9800,1)" font-size="16.60" font-weight="bold">-10</text>
<line x1="679.50" y1="799.28" x2="688.50" y2="799.28" stroke-width="2.2"/>
<text transform="translate(654.14,805.13) scale(0.9800,1)" font-size="16.60" font-weight="bold">-20</text>
<line x1="679.50" y1="834.50" x2="688.50" y2="834.50" stroke-width="2.2"/>
<text transform="translate(654.14,840.35) scale(0.9800,1)" font-size="16.60" font-weight="bold">-30</text>
<text transform="translate(593.27,700.85) scale(0.9247,1)" font-size="16.30" font-weight="bold">95% LoA</text>
<text transform="translate(623.88,741.25) scale(0.9669,1)" font-size="16.30" font-weight="bold">Bias</text>
<text transform="translate(593.27,781.55) scale(0.9247,1)" font-size="16.30" font-weight="bold">95% LoA</text>
<circle cx="855.1" cy="717.7" r="4.4"/>
<circle cx="888.5" cy="716.9" r="4.4"/>
<circle cx="901.1" cy="721.5" r="4.4"/>
<circle cx="898.5" cy="725.4" r="4.4"/>
<circle cx="904.6" cy="726.2" r="4.4"/>
<circle cx="902.3" cy="730.0" r="4.4"/>
<circle cx="902.0" cy="724.6" r="4.4"/>
<circle cx="869.2" cy="742.6" r="4.4"/>
<circle cx="879.2" cy="759.2" r="4.4"/>
<circle cx="884.6" cy="759.2" r="4.4"/>
<circle cx="879.5" cy="783.1" r="4.4"/>
<text transform="translate(734.88,829.80) scale(0.9958,1)" font-size="17.38" font-weight="bold">Mean of Meas 1 and Meas 2</text>
<text transform="translate(1088.20,794.54) rotate(-90) scale(0.9551,1)" font-size="18.29" font-weight="bold">Meas 1 - Meas 2</text>
<line x1="1204.30" y1="669.10" x2="1512.00" y2="669.10" stroke-width="2" stroke-dasharray="2 4.34" stroke-dashoffset="0"/>
<line x1="1204.30" y1="802.20" x2="1512.00" y2="802.20" stroke-width="2" stroke-dasharray="2 4.34" stroke-dashoffset="0"/>
<line x1="1197.60" y1="735.60" x2="1512.00" y2="735.60" stroke-width="2" stroke-dasharray="5.9 4.7" stroke-dashoffset="0"/>
<line x1="1198.60" y1="728.85" x2="1517.90" y2="728.85" stroke-width="2"/>
<line x1="1230.43" y1="727.85" x2="1230.43" y2="737.35" stroke-width="2"/>
<rect x="1221.96" y="742.33" width="16.95" height="13.82" fill="#fff"/>
<text transform="translate(1221.20,755.15) scale(0.9800,1)" font-size="16.60" font-weight="bold">10</text>
<line x1="1262.26" y1="727.85" x2="1262.26" y2="737.35" stroke-width="2"/>
<rect x="1253.54" y="742.33" width="17.44" height="13.82" fill="#fff"/>
<text transform="translate(1253.27,755.15) scale(0.9800,1)" font-size="16.60" font-weight="bold">20</text>
<line x1="1294.09" y1="727.85" x2="1294.09" y2="737.35" stroke-width="2"/>
<rect x="1285.29" y="742.33" width="17.60" height="13.82" fill="#fff"/>
<text transform="translate(1285.18,755.15) scale(0.9800,1)" font-size="16.60" font-weight="bold">30</text>
<line x1="1325.92" y1="727.85" x2="1325.92" y2="737.35" stroke-width="2"/>
<rect x="1317.04" y="742.33" width="17.76" height="13.82" fill="#fff"/>
<text transform="translate(1317.09,755.15) scale(0.9800,1)" font-size="16.60" font-weight="bold">40</text>
<line x1="1357.75" y1="727.85" x2="1357.75" y2="737.35" stroke-width="2"/>
<rect x="1348.99" y="742.33" width="17.52" height="13.82" fill="#fff"/>
<text transform="translate(1348.80,755.15) scale(0.9800,1)" font-size="16.60" font-weight="bold">50</text>
<line x1="1389.58" y1="727.85" x2="1389.58" y2="737.35" stroke-width="2"/>
<rect x="1380.86" y="742.33" width="17.44" height="13.82" fill="#fff"/>
<text transform="translate(1380.59,755.15) scale(0.9800,1)" font-size="16.60" font-weight="bold">60</text>
<line x1="1421.41" y1="727.85" x2="1421.41" y2="737.35" stroke-width="2"/>
<rect x="1412.77" y="742.33" width="17.27" height="13.82" fill="#fff"/>
<text transform="translate(1412.34,755.15) scale(0.9800,1)" font-size="16.60" font-weight="bold">70</text>
<line x1="1453.24" y1="727.85" x2="1453.24" y2="737.35" stroke-width="2"/>
<rect x="1444.48" y="742.33" width="17.52" height="13.82" fill="#fff"/>
<text transform="translate(1444.29,755.15) scale(0.9800,1)" font-size="16.60" font-weight="bold">80</text>
<line x1="1485.07" y1="727.85" x2="1485.07" y2="737.35" stroke-width="2"/>
<rect x="1476.35" y="742.33" width="17.44" height="13.82" fill="#fff"/>
<text transform="translate(1476.08,755.15) scale(0.9800,1)" font-size="16.60" font-weight="bold">90</text>
<line x1="1516.90" y1="727.85" x2="1516.90" y2="737.35" stroke-width="2"/>
<rect x="1503.91" y="742.33" width="25.98" height="13.82" fill="#fff"/>
<text transform="translate(1503.15,755.15) scale(0.9800,1)" font-size="16.60" font-weight="bold">100</text>
<line x1="1198.60" y1="622.20" x2="1198.60" y2="835.50" stroke-width="2.2"/>
<line x1="1189.60" y1="623.20" x2="1198.60" y2="623.20" stroke-width="2.2"/>
<text transform="translate(1169.45,629.05) scale(0.9800,1)" font-size="16.60" font-weight="bold">15</text>
<line x1="1189.60" y1="658.42" x2="1198.60" y2="658.42" stroke-width="2.2"/>
<text transform="translate(1169.69,664.27) scale(0.9800,1)" font-size="16.60" font-weight="bold">10</text>
<line x1="1189.60" y1="693.63" x2="1198.60" y2="693.63" stroke-width="2.2"/>
<text transform="translate(1178.48,699.48) scale(0.9800,1)" font-size="16.60" font-weight="bold">5</text>
<line x1="1189.60" y1="728.85" x2="1198.60" y2="728.85" stroke-width="2.2"/>
<text transform="translate(1178.72,734.70) scale(0.9800,1)" font-size="16.60" font-weight="bold">0</text>
<line x1="1189.60" y1="764.07" x2="1198.60" y2="764.07" stroke-width="2.2"/>
<text transform="translate(1173.03,769.92) scale(0.9800,1)" font-size="16.60" font-weight="bold">-5</text>
<line x1="1189.60" y1="799.28" x2="1198.60" y2="799.28" stroke-width="2.2"/>
<text transform="translate(1164.24,805.13) scale(0.9800,1)" font-size="16.60" font-weight="bold">-10</text>
<line x1="1189.60" y1="834.50" x2="1198.60" y2="834.50" stroke-width="2.2"/>
<text transform="translate(1164.00,840.35) scale(0.9800,1)" font-size="16.60" font-weight="bold">-15</text>
<text transform="translate(1103.37,674.15) scale(0.9247,1)" font-size="16.30" font-weight="bold">95% LoA</text>
<text transform="translate(1133.98,740.65) scale(0.9669,1)" font-size="16.30" font-weight="bold">Bias</text>
<text transform="translate(1103.37,807.25) scale(0.9247,1)" font-size="16.30" font-weight="bold">95% LoA</text>
<circle cx="1281.7" cy="681.2" r="4.4"/>
<circle cx="1284.6" cy="719.5" r="4.4"/>
<circle cx="1289.8" cy="721.5" r="4.4"/>
<circle cx="1302.7" cy="724.9" r="4.4"/>
<circle cx="1313.4" cy="720.9" r="4.4"/>
<circle cx="1321.0" cy="708.0" r="4.4"/>
<circle cx="1328.5" cy="719.9" r="4.4"/>
<circle cx="1320.0" cy="734.6" r="4.4"/>
<circle cx="1306.9" cy="749.1" r="4.4"/>
<circle cx="1310.3" cy="762.7" r="4.4"/>
<circle cx="1300.9" cy="774.4" r="4.4"/>
<circle cx="1315.4" cy="809.0" r="4.4"/>
<text transform="translate(1244.98,829.80) scale(0.9958,1)" font-size="17.38" font-weight="bold">Mean of Meas 1 and Meas 2</text>
</svg>
</body></html>
